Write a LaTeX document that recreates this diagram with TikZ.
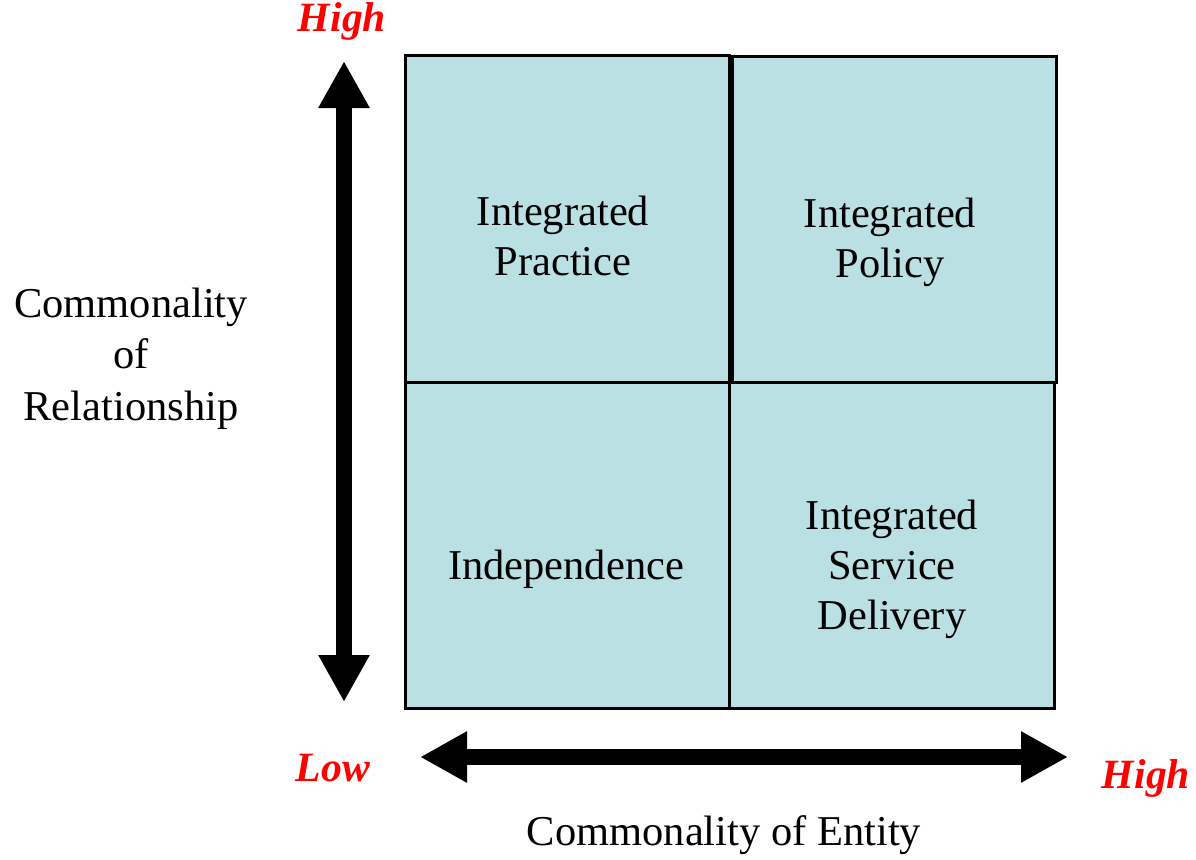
\documentclass[tikz,border=0pt]{standalone}
\usepackage{fontspec}
\setmainfont{Liberation Serif}
\usetikzlibrary{arrows.meta}
\definecolor{cellfill}{HTML}{BBE0E3}
\definecolor{axred}{HTML}{FF0000}
\begin{document}
\begin{tikzpicture}[x=1pt,y=-1pt,
  cell/.style={draw=black, line width=3pt, fill=cellfill, inner sep=0pt},
  lbl/.style={font=\fontsize{42.5}{50}\selectfont, align=center, inner sep=0pt},
  axlbl/.style={font=\fontsize{42.5}{51.5}\selectfont, align=center, inner sep=0pt},
  endlbl/.style={font=\fontsize{41.7}{48}\selectfont\bfseries\itshape, text=axred, inner sep=0pt, anchor=base},
  axis/.style={line width=16pt, {Triangle[length=47pt,width=48pt]}-{Triangle[length=47pt,width=48pt]}}]
\useasboundingbox (0,0) rectangle (1196,859);
% cells
\node[cell, minimum width=324pt, minimum height=326.5pt] (tl) at (567,218.75) {};
\node[cell, minimum width=324pt, minimum height=325.5pt] (tr) at (894,219.75) {};
\node[cell, minimum width=324pt, minimum height=326.3pt] (bl) at (567,545.15) {};
\node[cell, minimum width=325pt, minimum height=326.3pt] (br) at (891.5,545.15) {};
% cell texts
\node[lbl] (tltext) at (563,240.5) {\strut Integrated\\\strut Practice};
\node[lbl] (trtext) at (890,242) {\strut Integrated\\\strut Policy};
\node[lbl] (bltext) at (566,569) {\strut Independence};
\node[lbl] (brtext) at (892,569) {\strut Integrated\\\strut Service\\\strut Delivery};
% axes
\coordinate (vtop) at (344,61);
\coordinate (vbot) at (344,702);
\coordinate (hleft) at (420,757);
\coordinate (hright) at (1068,757);
\draw[axis] (vbot) -- (vtop);
\draw[axis] (hleft) -- (hright);
% axis labels
\node[axlbl] (ylabel) at (131,358.2) {\strut Commonality\\\strut of\\\strut Relationship};
\node[lbl, anchor=base] (xlabel) at (724,845) {Commonality of Entity};
\node[endlbl] (yhigh) at (342,32) {High};
\node[endlbl] (xlow) at (333,781) {Low};
\node[endlbl] (xhigh) at (1146,788) {High};
\end{tikzpicture}
\end{document}
